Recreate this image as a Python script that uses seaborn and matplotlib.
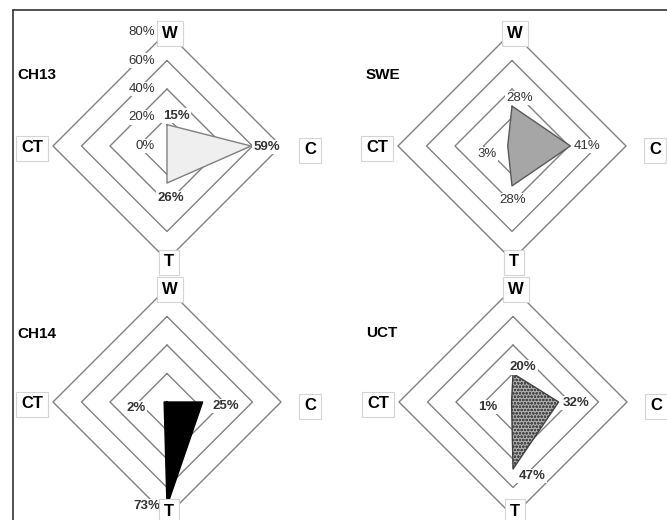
import numpy as np
import pandas as pd
import matplotlib
matplotlib.use("Agg")
import matplotlib.pyplot as plt
from matplotlib.lines import Line2D
import seaborn as sns

sns.set_theme(style="white")
plt.rcParams['font.family'] = ['Liberation Sans', 'DejaVu Sans']
plt.rcParams['hatch.linewidth'] = 0.7

# Data (percent share per category)
CATEGORIES = ['W', 'C', 'T', 'CT']
PANELS = ['CH13', 'SWE', 'CH14', 'UCT']
CH13 = [15, 59, 26, 0]
SWE = [28, 41, 28, 3]
CH14 = [0, 25, 73, 2]
UCT = [20, 32, 47, 1]
GRID_LEVELS = [20, 40, 60, 80]
TICK_LEVELS = [0, 20, 40, 60, 80]

VALUES = {'CH13': CH13, 'SWE': SWE, 'CH14': CH14, 'UCT': UCT}

# layout / style
W_PX, H_PX = 667, 520
CENTERS = {'CH13': (167, 146), 'SWE': (512, 146), 'CH14': (167, 402), 'UCT': (513, 402)}
RADIUS_PX = 114
ANGLES = {'W': 90, 'C': 0, 'T': 270, 'CT': 180}
CAT_OFFSETS = {'W': (3, -1), 'C': (29, -4), 'T': (2, -2), 'CT': (-21, -2)}
CAT_OFFSETS_BOTTOM_T = (2, 5)
LABEL_OFFSETS = {
    'CH13': {'W': (9, 9), 'C': (16, -1), 'T': (4, -15), 'CT': (-21, -1)},
    'SWE': {'W': (8, 8), 'C': (17, 0), 'T': (1, -14), 'CT': (-21, -8)},
    'CH14': {'W': (8, 8), 'C': (23, -4), 'T': (-20, 0), 'CT': (-28, -6)},
    'UCT': {'W': (10, 6), 'C': (17, -1), 'T': (19, -7), 'CT': (-24, -5)},
}
FILLS = {
    'CH13': dict(face='#efefef', edge='#7f7f7f', hatch=None, hcol=None),
    'SWE': dict(face='#a6a6a6', edge='#595959', hatch=None, hcol=None),
    'CH14': dict(face='#000000', edge='#000000', hatch=None, hcol=None),
    'UCT': dict(face='#b0b0b0', edge='#404040', hatch='ooooo', hcol='#4a4a4a'),
}
LABEL_BOLD = {'CH13': True, 'SWE': False, 'CH14': True, 'UCT': True}
TITLE_POS = {'CH13': (17, 75), 'SWE': (366, 75), 'CH14': (17, 334), 'UCT': (366, 333)}

fig = plt.figure(figsize=(W_PX / 100, H_PX / 100), dpi=100)

for name in PANELS:
    cx, cy = CENTERS[name]
    w = 2 * RADIUS_PX / W_PX
    h = 2 * RADIUS_PX / H_PX
    ax = fig.add_axes([cx / W_PX - w / 2, 1 - cy / H_PX - h / 2, w, h], projection='polar')

    theta = np.deg2rad([ANGLES[c] for c in CATEGORIES + CATEGORIES[:1]])

    # diamond gridlines
    for lvl in GRID_LEVELS:
        ax.plot(theta, [lvl] * len(theta), color='#808080', lw=1.0, clip_on=False, zorder=1)

    vals = VALUES[name]
    df = pd.DataFrame({'theta': theta, 'r': vals + vals[:1]})
    st = FILLS[name]
    ax.fill(df['theta'], df['r'], facecolor=st['face'], edgecolor=st['hcol'] or 'none',
            hatch=st['hatch'], lw=0, zorder=2)
    sns.lineplot(data=df, x='theta', y='r', sort=False, estimator=None, ax=ax,
                 color=st['edge'], lw=1.0, zorder=3)
    ax.set_ylim(0, 80)
    ax.set_axis_off()

    # category labels in boxes
    bottom_row = name in ('CH14', 'UCT')
    for cat in CATEGORIES:
        off = CAT_OFFSETS_BOTTOM_T if (bottom_row and cat == 'T') else CAT_OFFSETS[cat]
        ax.annotate(cat, xy=(np.deg2rad(ANGLES[cat]), 80), xytext=off,
                    textcoords='offset pixels', ha='center', va='center',
                    fontsize=12, fontweight='bold', color='black', annotation_clip=False,
                    bbox=dict(boxstyle='square,pad=0.3', fc='white', ec='#d4d4d4', lw=0.8),
                    zorder=5)

    # data labels (CH13's 0% coincides with the axis tick label)
    for cat, v in zip(CATEGORIES, vals):
        if v == 0:
            continue
        ax.annotate(f'{v}%', xy=(np.deg2rad(ANGLES[cat]), v), xytext=LABEL_OFFSETS[name][cat],
                    textcoords='offset pixels', ha='center', va='center', fontsize=9.5,
                    fontweight='bold' if LABEL_BOLD[name] else 'normal', color='#333333',
                    annotation_clip=False,
                    bbox=dict(boxstyle='square,pad=0.1', fc='white', ec='none'), zorder=4)

    # radial tick labels only on first panel
    if name == 'CH13':
        for t in TICK_LEVELS:
            ax.annotate(f'{t}%', xy=(np.deg2rad(90), t), xytext=(-12, 0),
                        textcoords='offset pixels', ha='right', va='center', fontsize=9.5,
                        color='#333333', annotation_clip=False,
                        bbox=dict(boxstyle='square,pad=0.1', fc='white', ec='none'), zorder=4)

    tx, ty = TITLE_POS[name]
    fig.text(tx / W_PX, 1 - ty / H_PX, name, ha='left', va='center', fontsize=11,
             fontweight='bold', color='black')

# frame on top and left
fig.add_artist(Line2D([13 / W_PX, 1], [1 - 10 / H_PX] * 2, transform=fig.transFigure,
                      color='#333333', lw=1.2))
fig.add_artist(Line2D([13 / W_PX] * 2, [0, 1 - 10 / H_PX], transform=fig.transFigure,
                      color='#333333', lw=1.2))

fig.savefig('out.png', dpi=100, facecolor='white')
